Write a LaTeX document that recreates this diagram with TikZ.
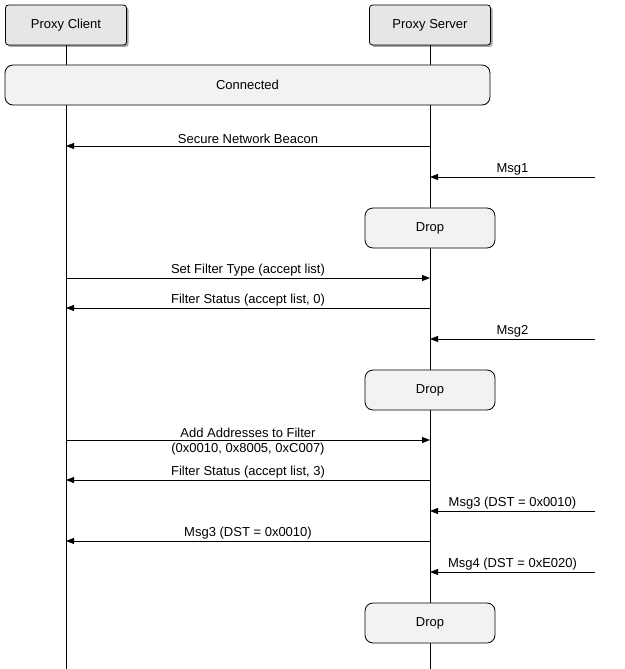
\documentclass[tikz,border=0pt]{standalone}
\usepackage{fontspec}
\setmainfont{Liberation Sans}
\usetikzlibrary{arrows.meta,shadows}

\definecolor{headfill}{HTML}{E6E6E6}
\definecolor{boxfill}{HTML}{F2F2F2}

\tikzset{
  head/.style={draw, fill=headfill, rounded corners=3pt, minimum width=121pt, minimum height=40pt,
    drop shadow={shadow xshift=2pt, shadow yshift=-2pt, fill=gray!70, opacity=1}},
  state/.style={draw, fill=boxfill, rounded corners=8pt, minimum height=40pt},
  msg/.style={-{Triangle[length=8pt,width=6pt]}},
  lbl/.style={above, inner sep=1pt, yshift=0.5pt}
}

\begin{document}
\begin{tikzpicture}[x=1pt,y=-1pt,line width=0.8pt,font=\fontsize{13}{15}\selectfont]
\useasboundingbox (0,0) rectangle (624,669);

\node[head] (client) at (66,25) {Proxy Client};
\node[head] (server) at (430,25) {Proxy Server};

\coordinate (cend) at (66,669);
\coordinate (send) at (430,669);
\draw (client.south) -- (cend);
\draw (server.south) -- (send);

\node[state, minimum width=485pt] (conn) at (247.5,85) {Connected};

\coordinate (c1) at (66,146);
\coordinate (s1) at (430,146);
\draw[msg] (s1) -- node[lbl] {Secure Network Beacon} (c1);

\coordinate (r2) at (595,177);
\coordinate (s2) at (430,177);
\draw[msg] (r2) -- node[lbl] {Msg1} (s2);

\node[state, minimum width=130pt] (drop1) at (430,228) {Drop};

\coordinate (c3) at (66,278);
\coordinate (s3) at (430,278);
\draw[msg] (c3) -- node[lbl] {Set Filter Type (accept list)} (s3);

\coordinate (c4) at (66,308);
\coordinate (s4) at (430,308);
\draw[msg] (s4) -- node[lbl] {Filter Status (accept list, 0)} (c4);

\coordinate (r5) at (595,339);
\coordinate (s5) at (430,339);
\draw[msg] (r5) -- node[lbl] {Msg2} (s5);

\node[state, minimum width=130pt] (drop2) at (430,390) {Drop};

\coordinate (c6) at (66,440);
\coordinate (s6) at (430,440);
\draw[msg] (c6) -- node[lbl] {Add Addresses to Filter}
  node[below, inner sep=1pt, yshift=-2pt] {(0x0010, 0x8005, 0xC007)} (s6);

\coordinate (c7) at (66,480);
\coordinate (s7) at (430,480);
\draw[msg] (s7) -- node[lbl] {Filter Status (accept list, 3)} (c7);

\coordinate (r8) at (595,511);
\coordinate (s8) at (430,511);
\draw[msg] (r8) -- node[lbl] {Msg3 (DST = 0x0010)} (s8);

\coordinate (c9) at (66,541);
\coordinate (s9) at (430,541);
\draw[msg] (s9) -- node[lbl] {Msg3 (DST = 0x0010)} (c9);

\coordinate (r10) at (595,572);
\coordinate (s10) at (430,572);
\draw[msg] (r10) -- node[lbl] {Msg4 (DST = 0xE020)} (s10);

\node[state, minimum width=130pt] (drop3) at (430,623) {Drop};
\end{tikzpicture}
\end{document}
